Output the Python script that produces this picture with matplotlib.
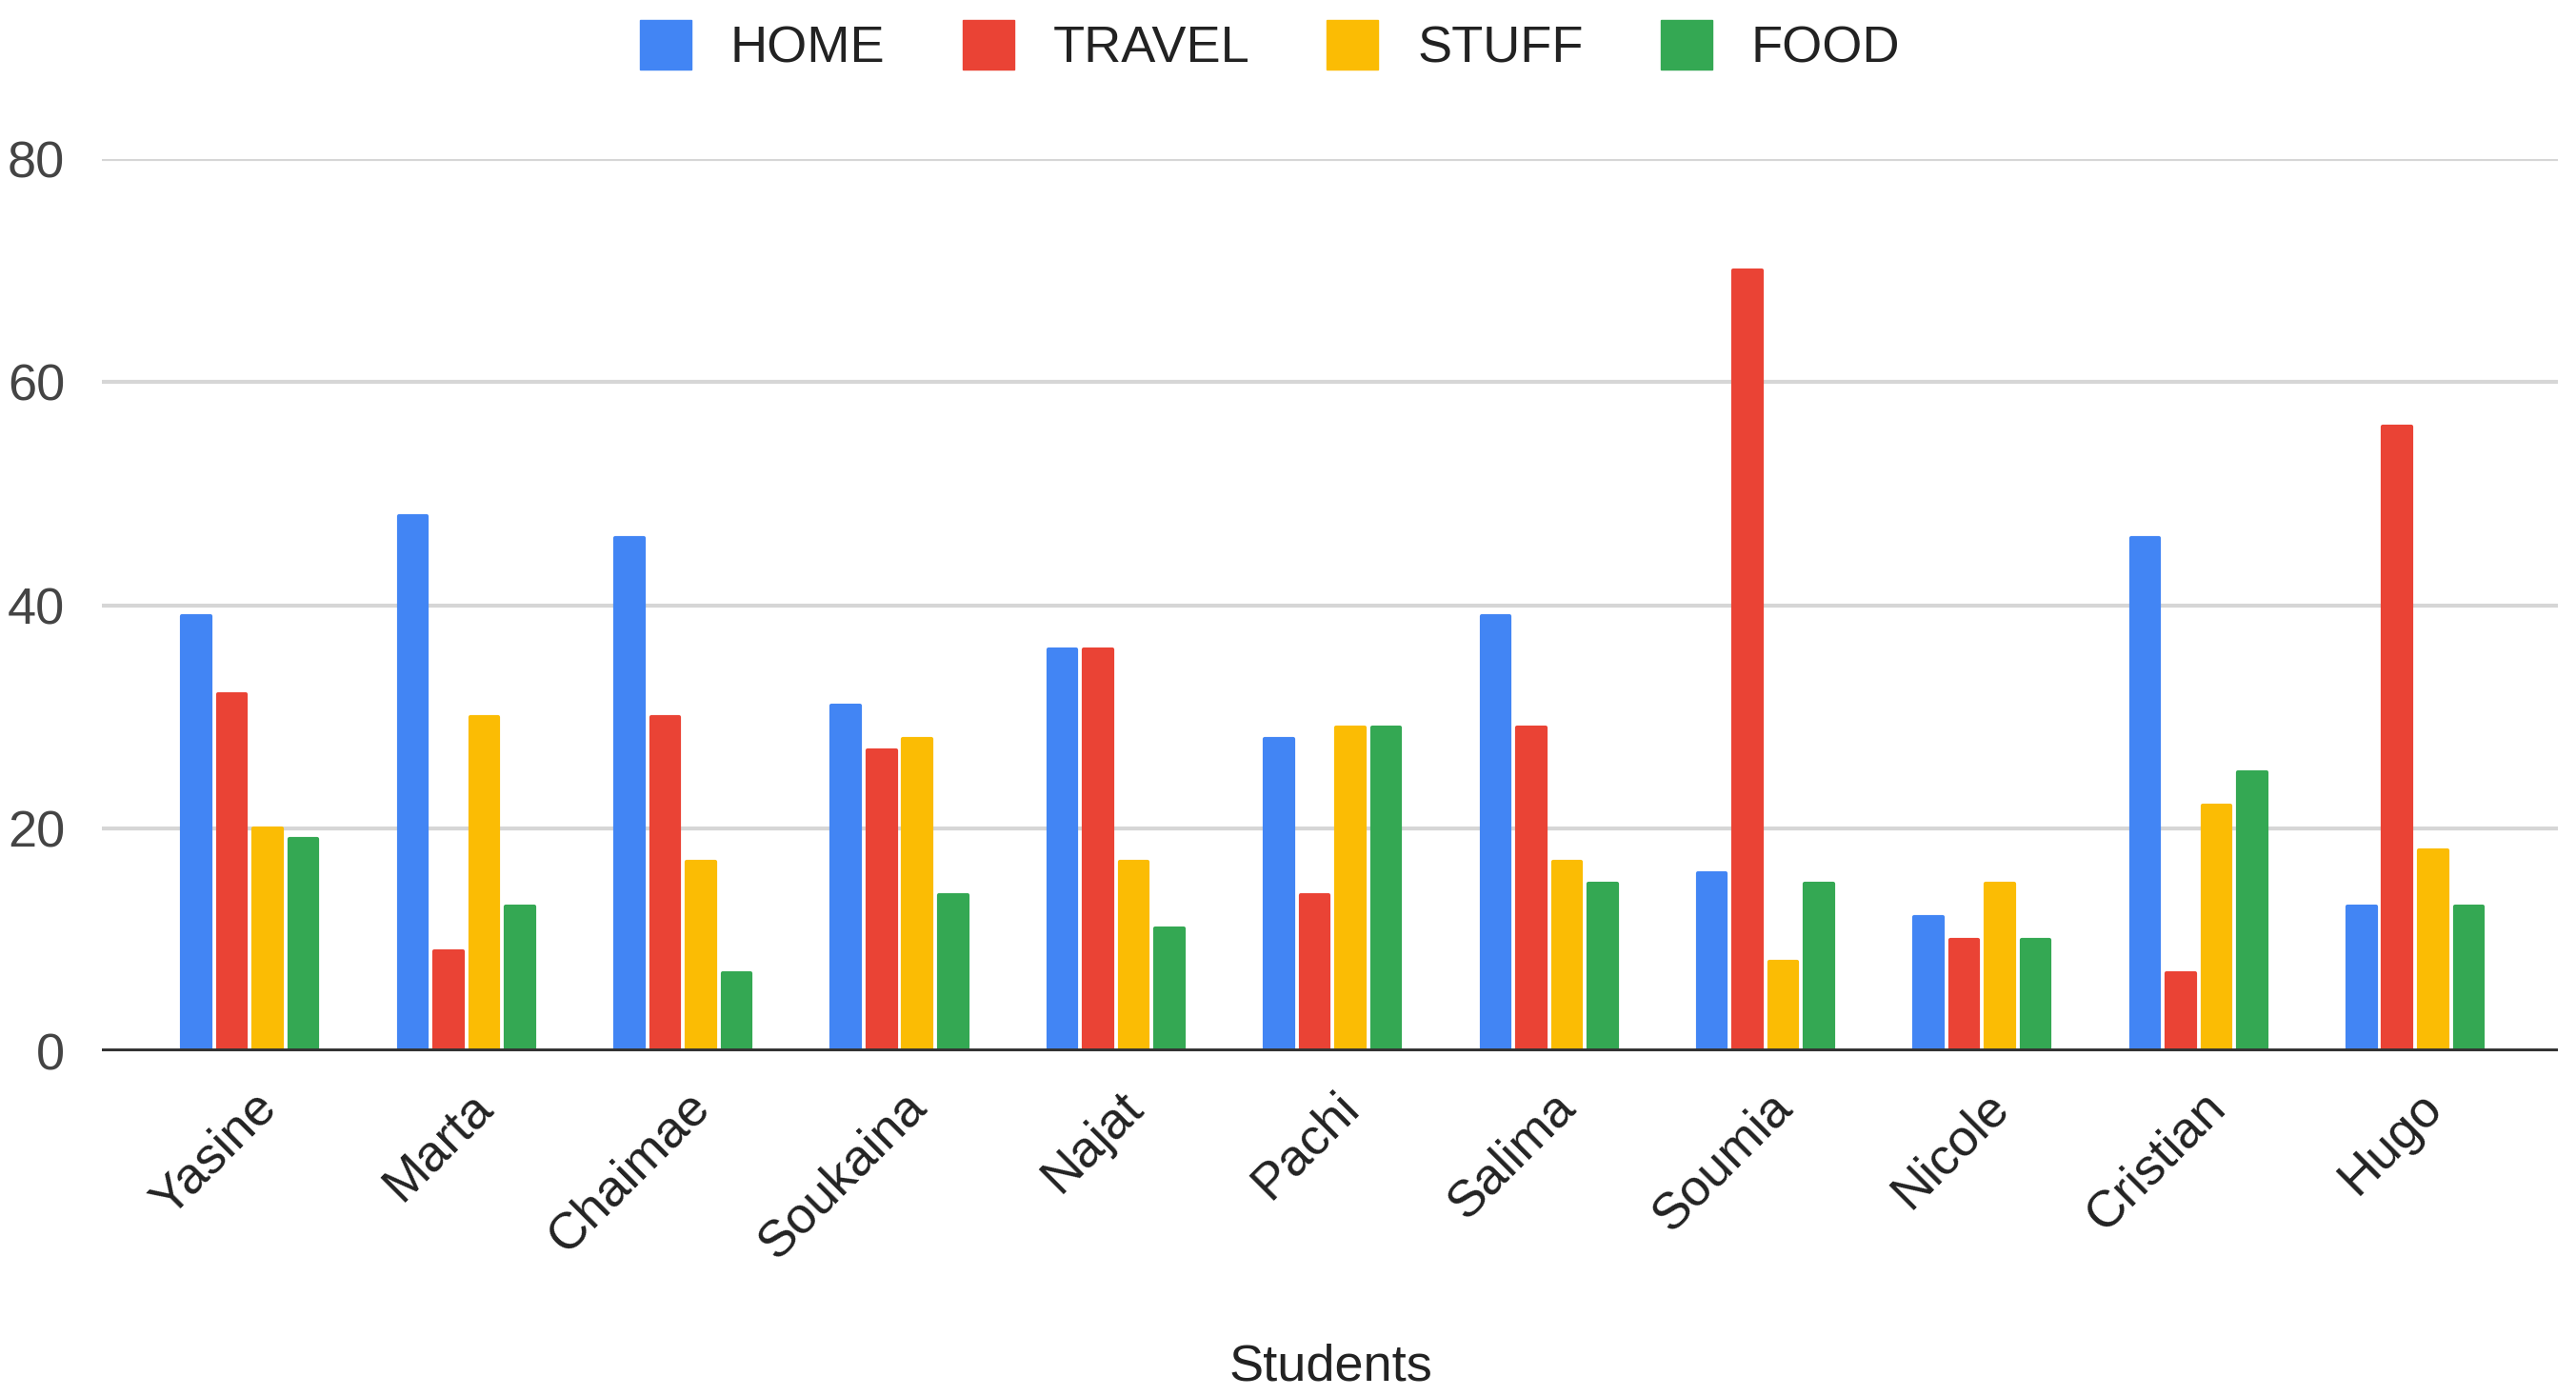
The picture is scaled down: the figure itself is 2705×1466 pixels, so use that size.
import numpy as np
import matplotlib
matplotlib.use('Agg')
import matplotlib.pyplot as plt
import matplotlib.transforms as mtransforms
from matplotlib.patches import Patch

students = ['Yasine', 'Marta', 'Chaimae', 'Soukaina', 'Najat', 'Pachi',
            'Salima', 'Soumia', 'Nicole', 'Cristian', 'Hugo']
series = ['HOME', 'TRAVEL', 'STUFF', 'FOOD']
home = [39, 48, 46, 31, 36, 28, 39, 16, 12, 46, 13]
travel = [32, 9, 30, 27, 36, 14, 29, 70, 10, 7, 56]
stuff = [20, 30, 17, 28, 17, 29, 17, 8, 15, 22, 18]
food = [19, 13, 7, 14, 11, 29, 15, 15, 10, 25, 13]
colors = ['#4285F4', '#EA4335', '#FBBC04', '#34A853']
yticks = [0, 20, 40, 60, 80]

plt.rcParams['font.family'] = ['Liberation Sans', 'DejaVu Sans']

fig = plt.figure(figsize=(27.05, 14.66), dpi=100)
ax = fig.add_axes([0.0396, 0.2469, 0.9534, 0.6392])

x = np.arange(len(students))
step = 0.165
width = 0.13
for i, (vals, c) in enumerate(zip([home, travel, stuff, food], colors)):
    ax.bar(x + (i - 1.5) * step, vals, width=width, color=c, edgecolor=c,
           linewidth=3, joinstyle='round', zorder=3)

ax.set_ylim(0, 80)
ax.set_xlim(-0.683, 10.66)
ax.set_yticks(yticks)
ax.yaxis.grid(True, color='#d6d6d6', linewidth=3, zorder=0)
ax.axhline(0, color='#333333', linewidth=5, zorder=4)
for s in ax.spines.values():
    s.set_visible(False)
ax.tick_params(axis='y', length=0, pad=28, labelsize=39, labelcolor='#444444')
ax.tick_params(axis='x', length=0, pad=22, labelsize=39, labelcolor='#222222')

ax.set_xticks(x)
ax.set_xticklabels(students, rotation=45, ha='right', va='center',
                   rotation_mode='anchor')
offset = mtransforms.ScaledTranslation(0.2, -0.2, fig.dpi_scale_trans)
for lab in ax.get_xticklabels():
    lab.set_transform(lab.get_transform() + offset)

fig.text(0.5165, 0.021, 'Students', ha='center', va='center', fontsize=39,
         color='#222222')

handles = [Patch(facecolor=c, edgecolor=c) for c in colors]
fig.legend(handles, series, loc='center', bbox_to_anchor=(0.493, 0.967),
           ncol=4, frameon=False, fontsize=39, labelcolor='#222222',
           handlelength=1.0, handleheight=1.1, handletextpad=0.75,
           columnspacing=1.5)

fig.savefig('out.png', dpi=100)
